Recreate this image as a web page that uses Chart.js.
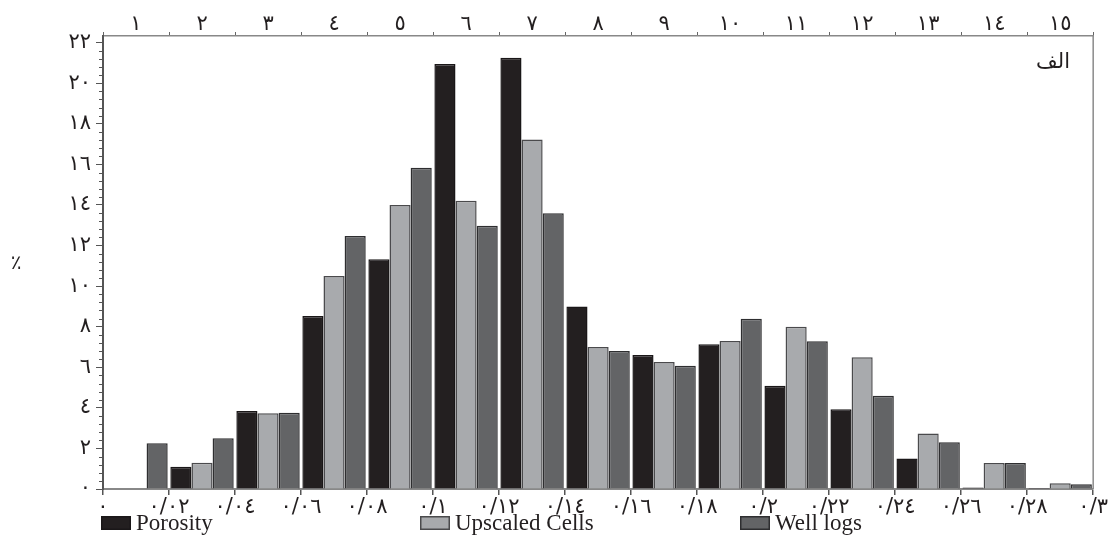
<!DOCTYPE html>
<html>
<head>
<meta charset="utf-8">
<script src="https://cdn.jsdelivr.net/npm/chart.js@4.4.1/dist/chart.umd.min.js"></script>
<style>
html,body{margin:0;padding:0;background:#fff;}
#wrap{width:1110px;height:538px;position:relative;}
</style>
</head>
<body>
<div id="wrap"><canvas id="c"></canvas></div>
<script>
// ---- data ----
const binLabels = ['1','2','3','4','5','6','7','8','9','10','11','12','13','14','15'];
const porosity = [0, 1.1, 3.84, 8.53, 11.32, 20.95, 21.26, 8.99, 6.6, 7.13, 5.09, 3.93, 1.5, 0.08, 0.05];
const upscaled = [0, 1.3, 3.74, 10.5, 14.0, 14.21, 17.23, 7.0, 6.26, 7.29, 8.0, 6.49, 2.74, 1.28, 0.28];
const wellLogs = [2.25, 2.5, 3.76, 12.47, 15.84, 12.98, 13.59, 6.8, 6.08, 8.39, 7.28, 4.6, 2.3, 1.28, 0.23];
const seriesNames = ['Porosity', 'Upscaled Cells', 'Well logs'];
const xMin = 0, xMax = 0.3, xStep = 0.02;
const yMin = 0, yMax = 22.33, yStep = 2, yMinorStep = 0.4;
const panelLabel = 'الف';
const yTitle = '٪';

// ---- helpers ----
const AR = ['٠','١','٢','٣','٤','٥','٦','٧','٨','٩'];
function toAr(s){ return String(s).replace(/[0-9]/g, d => AR[+d]); }
function fmtX(v){ const r = Math.round(v*100)/100; return toAr(String(r).replace('.', '/')); }

const fills = ['#231f20', '#a8aaad', '#636466'];
const borders = ['#1a1718', '#4a4a4c', '#2e2e30'];
const tickFont = {family: 'DejaVu Sans', size: 21, lineHeight: 1};

const extras = {
  id: 'extras',
  afterDraw(chart){
    const ctx = chart.ctx, a = chart.chartArea;
    ctx.save();
    // right frame
    ctx.strokeStyle = '#8a8a8a'; ctx.lineWidth = 1.5;
    ctx.beginPath(); ctx.moveTo(a.right, a.top); ctx.lineTo(a.right, a.bottom); ctx.stroke();
    // minor y ticks
    const ys = chart.scales.y;
    ctx.strokeStyle = '#555'; ctx.lineWidth = 1;
    for (let k = 0; k * yMinorStep <= 22.01; k++) {
      const v = k * yMinorStep;
      if (Math.abs(v/yStep - Math.round(v/yStep)) < 1e-6) continue;
      const py = Math.round(ys.getPixelForValue(v)) + 0.5;
      ctx.beginPath(); ctx.moveTo(a.left - 4, py); ctx.lineTo(a.left, py); ctx.stroke();
    }
    // y title
    ctx.fillStyle = '#231f20';
    ctx.font = '20px "DejaVu Sans"';
    ctx.textAlign = 'center'; ctx.textBaseline = 'middle';
    ctx.fillText(yTitle, 16, 264);
    // panel label
    ctx.font = '21px "DejaVu Sans"';
    ctx.textAlign = 'right';
    ctx.fillText(panelLabel, 1070, 63);
    // legend
    const lx = [101, 420, 740];
    ctx.font = '23px "Liberation Serif"';
    ctx.textAlign = 'left'; ctx.textBaseline = 'alphabetic';
    chart.data.datasets.forEach((ds, i) => {
      ctx.fillStyle = ds.backgroundColor;
      ctx.fillRect(lx[i], 516, 30, 14);
      ctx.strokeStyle = ds.borderColor; ctx.lineWidth = 1.5;
      ctx.strokeRect(lx[i] + 0.75, 516.75, 28.5, 12.5);
      ctx.fillStyle = '#231f20';
      ctx.fillText(ds.label, lx[i] + 35, 530);
    });
    ctx.restore();
  }
};

new Chart(document.getElementById('c'), {
  type: 'bar',
  data: {
    labels: binLabels,
    datasets: [porosity, upscaled, wellLogs].map((d, i) => ({
      label: seriesNames[i],
      data: d,
      xAxisID: 'xTop',
      yAxisID: 'y',
      backgroundColor: fills[i],
      borderColor: borders[i],
      borderWidth: 1.5,
      categoryPercentage: 0.96,
      barPercentage: 1.0
    }))
  },
  options: {
    responsive: true,
    maintainAspectRatio: false,
    animation: false,
    layout: {padding: {left: 0, right: 16, top: 0, bottom: 0}},
    plugins: {legend: {display: false}, tooltip: {enabled: false}},
    scales: {
      xTop: {
        type: 'category',
        position: 'top',
        offset: true,
        grid: {offset: true, drawOnChartArea: false, drawTicks: true, tickLength: 4, color: '#666', lineWidth: 1},
        border: {display: true, color: '#888', width: 1.5},
        ticks: {font: tickFont, color: '#231f20', padding: -3, maxRotation: 0, autoSkip: false,
                callback: function(v, i){ return toAr(binLabels[i]); }},
        afterFit(s){ s.height = 36; }
      },
      x: {
        type: 'linear',
        position: 'bottom',
        offset: false,
        min: xMin, max: xMax,
        grid: {offset: false, drawOnChartArea: false, drawTicks: true, tickLength: 6, color: '#555', lineWidth: 1.5},
        border: {display: true, color: '#888', width: 2},
        ticks: {stepSize: xStep, font: tickFont, color: '#231f20', padding: 2, maxRotation: 0, autoSkip: false,
                callback: v => fmtX(v)},
        afterFit(s){ s.height = 49; }
      },
      y: {
        type: 'linear',
        position: 'left',
        min: yMin, max: yMax,
        grid: {drawOnChartArea: false, drawTicks: true, tickLength: 7, color: '#555', lineWidth: 1},
        border: {display: true, color: '#555', width: 2},
        ticks: {stepSize: yStep, includeBounds: false, font: tickFont, color: '#231f20', padding: 5,
                callback: v => toAr(Math.round(v))},
        afterFit(s){ s.width = 103; }
      }
    }
  },
  plugins: [extras]
});
</script>
</body>
</html>
